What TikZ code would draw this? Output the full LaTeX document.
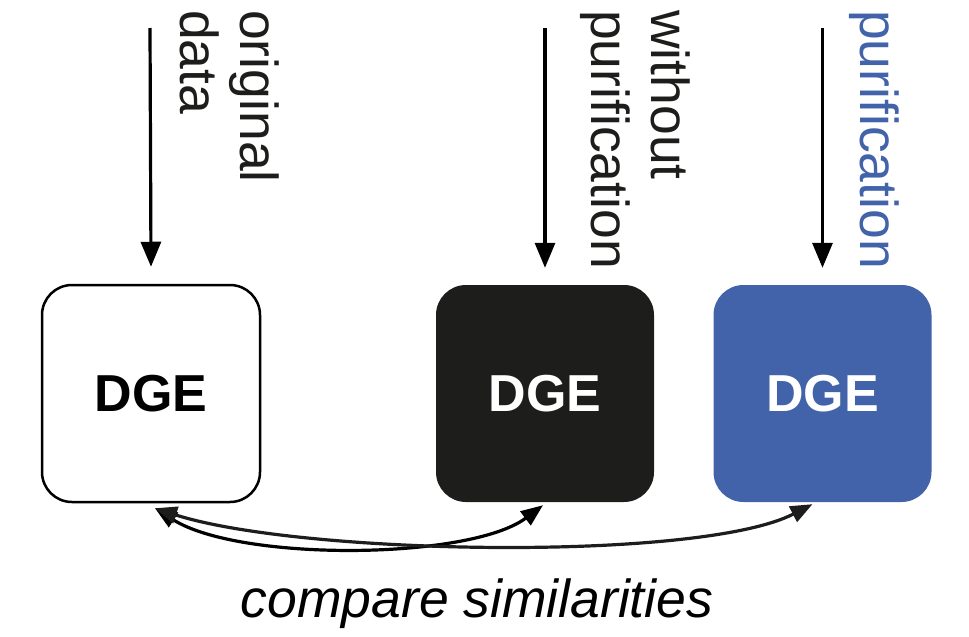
\documentclass[tikz,border=0pt]{standalone}
\usepackage{fontspec}
\setmainfont{Liberation Sans}
\usetikzlibrary{arrows.meta}
\definecolor{dgeblue}{RGB}{66,99,170}
\definecolor{dgeblack}{RGB}{29,29,27}
\begin{document}
\begin{tikzpicture}[x=1pt,y=-1pt,
  dgebox/.style={rounded corners=30pt,minimum width=218pt,minimum height=217pt,inner sep=0pt,
    font=\fontsize{52}{57}\selectfont\bfseries},
  vlabel/.style={rotate=-90,anchor=north west,align=left,inner sep=0pt,
    font=\fontsize{53.5}{60}\selectfont},
  feed/.style={line width=3.2pt,-{Triangle[length=25pt,width=20pt]}},
  cmp/.style={line width=3.2pt,{Triangle[length=22pt,width=17pt]}-{Triangle[length=22pt,width=17pt]}}
]
\useasboundingbox (0,0) rectangle (969,637);
\node[dgebox,draw=black,line width=2.5pt,fill=white] (b1) at (151,393.5) {DGE};
\node[dgebox,fill=dgeblack,text=white] (b2) at (545,393.5) {DGE};
\node[dgebox,fill=dgeblue,text=white] (b3) at (822.5,393.5) {DGE};
\coordinate (t1) at (150,28);
\coordinate (t2) at (545,28);
\coordinate (t3) at (822.5,28);
\draw[feed] (t1) -- ([yshift=17pt]b1.north);
\draw[feed] (t2) -- ([yshift=17pt]b2.north);
\draw[feed] (t3) -- ([yshift=17pt]b3.north);
\node[vlabel,text=dgeblack] (l1) at (279,10) {original\\data};
\node[vlabel,text=dgeblack] (l2) at (690,10) {without\\purification};
\node[vlabel,text=dgeblue] (l3) at (899,10) {purification};
\coordinate (s1) at ([xshift=4pt,yshift=-5pt]b1.south);
\coordinate (s2) at ([xshift=-2pt,yshift=-3pt]b2.south);
\coordinate (s3) at ([xshift=-10pt,yshift=-2pt]b3.south);
\draw[cmp,black] (s1) .. controls (240,562) and (470,560) .. (s2);
\draw[cmp,dgeblack] (s1) .. controls (300,555) and (700,562) .. (s3);
\node[font=\fontsize{53.5}{60}\selectfont\itshape,text=black] (cap) at (477,604) {compare similarities};
\end{tikzpicture}
\end{document}
